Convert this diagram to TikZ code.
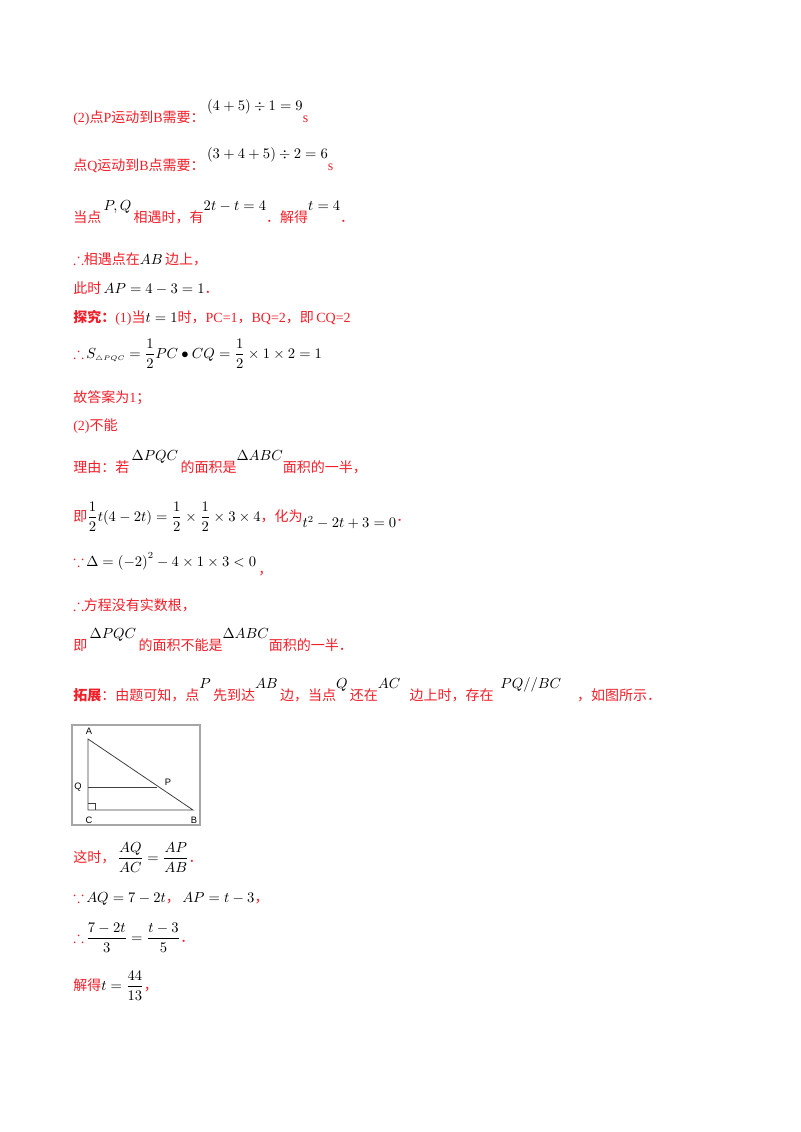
\documentclass[tikz,border=0pt]{standalone}
\usepackage{amsmath,amssymb}
\usepackage{fontspec}
\setmainfont{Liberation Serif}
\setsansfont{Liberation Sans}
\newfontfamily\cjk{Noto Sans CJK SC}
\definecolor{rd}{RGB}{240,30,40}
\newcommand{\zh}[1]{{\cjk #1}}
\newcommand{\up}[1]{\raisebox{9pt}{\color{black}$#1$}}
\newcommand{\mm}[1]{{\color{black}$#1$}}
\newcommand{\tf}{{\large$\therefore$}}
\newcommand{\bc}{{\large$\because$}}
\begin{document}
\begin{tikzpicture}[x=0.75pt,y=-0.75pt,
  ln/.style={anchor=base west,inner sep=0pt,text=rd,font=\fontsize{10.5pt}{12pt}\selectfont},
  lbl/.style={inner sep=0pt,font=\sffamily\fontsize{7pt}{8pt}\selectfont},
  fig/.style={line width=0.6pt,draw=black!75}]
\useasboundingbox (0,0) rectangle (800,1132);
\node[ln] (l1) at (73,122) {(2)\zh{点}P\zh{运动到}B\zh{需要：}\,\up{(4+5)\div1=9}s};
\node[ln] (l2) at (73,170) {\zh{点}Q\zh{运动到}B\zh{点需要：}\,\up{(3+4+5)\div2=6}s};
\node[ln] (l3) at (73,222) {\zh{当点}\,\up{P,Q}\,\zh{相遇时，有}\up{2t-t=4}\zh{．解得}\up{t=4}\zh{．}};
\node[ln] (l4) at (73,264) {\tf\zh{相遇点在}\mm{AB}\,\zh{边上，}};
\node[ln] (l5) at (73,293) {\zh{此时}\,\mm{AP=4-3=1}\zh{．}};
\node[ln] (l6) at (73,322) {\textbf{\zh{探究：}}(1)\zh{当}\mm{t=1}\zh{时，}PC=1\zh{，}BQ=2\zh{，即}\,CQ=2};
\node[ln] (l7) at (73,358) {\tf\,\mm{S_{\scriptscriptstyle\triangle PQC}=\dfrac12PC\bullet CQ=\dfrac12\times1\times2=1}};
\node[ln] (l8) at (73,402) {\zh{故答案为}1\zh{；}};
\node[ln] (l9) at (73,430) {(2)\zh{不能}};
\node[ln] (l10) at (73,472) {\zh{理由：若}\,\up{\Delta PQC}\,\zh{的面积是}\up{\Delta ABC}\zh{面积的一半，}};
\node[ln] (l11) at (73,521) {\zh{即}\mm{\dfrac12t(4-2t)=\dfrac12\times\dfrac12\times3\times4}\zh{，化为}\raisebox{-5pt}{\mm{t^2-2t+3=0}}\zh{．}};
\node[ln] (l12) at (73,566) {\bc\,\mm{\Delta=\left(-2\right)^2-4\times1\times3<0}\,\raisebox{-6pt}{\zh{，}}};
\node[ln] (l13) at (73,610) {\tf\zh{方程没有实数根，}};
\node[ln] (l14) at (73,650) {\zh{即}\,\up{\Delta PQC}\,\zh{的面积不能是}\up{\Delta ABC}\zh{面积的一半．}};
\node[ln] (l15) at (73,700) {\textbf{\zh{拓展}}\zh{：由题可知，点}\up{P}\,\zh{先到达}\up{AB}\,\zh{边，当点}\up{Q}\,\zh{还在}\up{AC}\hspace{7pt}\zh{边上时，存在}\hspace{5pt}\up{PQ//BC}\hspace{12pt}\zh{，如图所示．}};
% figure
\draw[draw=black!35,line width=0.8pt] (72,725) rectangle (200,825);
\coordinate (A) at (88,739); \coordinate (C) at (88,810); \coordinate (B) at (193,810);
\coordinate (Q) at (88,787); \coordinate (P) at (157,787);
\draw[fig] (A) -- (C) -- (B) -- cycle;
\draw[fig] (Q) -- (P);
\draw[fig,line width=0.5pt] (88,803) -- (95,803) -- (95,810);
\node[lbl] (la) at (89,731) {A};
\node[lbl] (lq) at (78,787) {Q};
\node[lbl] (lp) at (168,782) {P};
\node[lbl] (lc) at (89,820) {C};
\node[lbl] (lb) at (194,820) {B};
\node[ln] (l16) at (73,862) {\zh{这时，}\,\mm{\dfrac{AQ}{AC}=\dfrac{AP}{AB}}\zh{．}};
\node[ln] (l17) at (73,902) {\bc\,\mm{AQ=7-2t}\zh{，}\,\mm{AP=t-3}\zh{，}};
\node[ln] (l18) at (73,942) {\tf\,\mm{\dfrac{7-2t}{3}=\dfrac{t-3}{5}}\zh{．}};
\node[ln] (l19) at (73,990) {\zh{解得}\mm{t=\dfrac{44}{13}}\zh{，}};
\end{tikzpicture}
\end{document}
